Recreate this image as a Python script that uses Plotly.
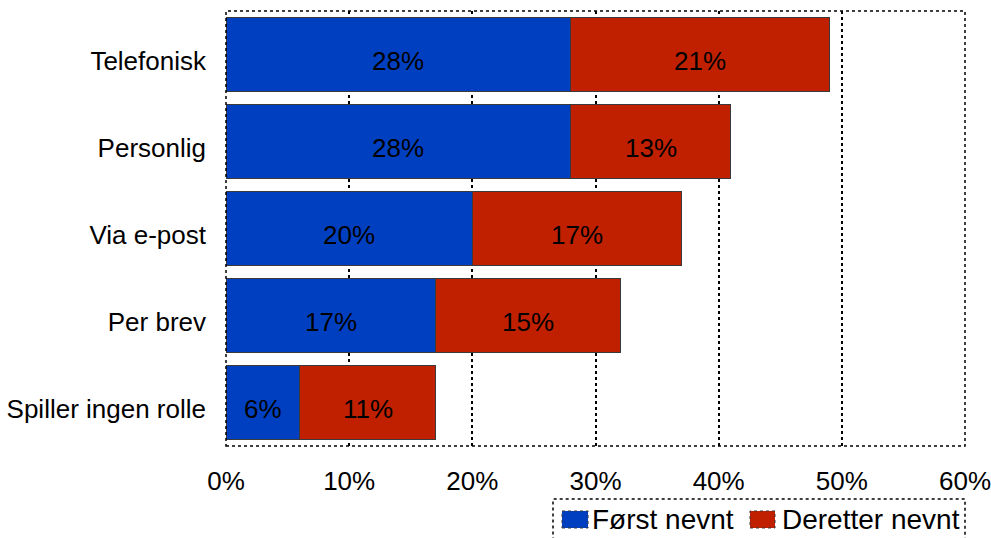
import plotly.graph_objects as go

# Kanaler og andeler (prosent)
kanaler = ["Telefonisk", "Personlig", "Via e-post", "Per brev", "Spiller ingen rolle"]
serier = ["Først nevnt", "Deretter nevnt"]
forst_nevnt = [28, 28, 20, 17, 6]
deretter_nevnt = [21, 13, 17, 15, 11]
x_ticks = [0, 10, 20, 30, 40, 50, 60]
x_ticktext = ["0%", "10%", "20%", "30%", "40%", "50%", "60%"]

BLUE = "#0040C0"
RED = "#C02000"
FONT = "Liberation Sans, Arial, sans-serif"
TEXT_DROP = -6  # etikettene sitter litt under midten av stolpen

fig = go.Figure()
for navn, verdier, farge in [(serier[0], forst_nevnt, BLUE), (serier[1], deretter_nevnt, RED)]:
    fig.add_trace(go.Bar(
        name=navn, y=kanaler, x=verdier, orientation="h",
        marker=dict(color=farge, line=dict(color="#3a3a3a", width=1)),
        hoverinfo="skip", showlegend=False,
    ))

# Verdietiketter midt i hvert segment
for kat, a, b in zip(kanaler, forst_nevnt, deretter_nevnt):
    for start, verdi in [(0, a), (a, b)]:
        fig.add_annotation(x=start + verdi / 2, y=kat, xref="x", yref="y",
                           text=f"{verdi}%", showarrow=False, yshift=TEXT_DROP,
                           font=dict(size=26, family=FONT, color="black"))

fig.update_layout(
    width=991, height=538,
    margin=dict(l=226, r=26, t=11, b=92),
    barmode="stack", bargap=0.15,
    plot_bgcolor="white", paper_bgcolor="white",
    font=dict(family=FONT, size=26, color="black"),
    showlegend=False,
)
fig.update_xaxes(
    range=[0, 60], tickvals=x_ticks, ticktext=x_ticktext,
    showgrid=True, gridcolor="black", griddash="dot", gridwidth=1.5,
    zeroline=False, showline=False, ticks="", ticklabelstandoff=17,
    tickfont=dict(size=26), automargin=False, ticklabeloverflow="allow",
)
fig.update_yaxes(
    categoryorder="array", categoryarray=kanaler, autorange="reversed",
    showgrid=False, zeroline=False, showline=False, ticks="",
    ticklabelstandoff=19, ticklabelshift=TEXT_DROP, tickfont=dict(size=26),
    automargin=False,
)

# Stiplet ramme rundt plottområdet
fig.add_shape(type="rect", xref="paper", yref="paper", x0=0, x1=1, y0=0, y1=1,
              line=dict(color="black", width=1.5, dash="dot"), layer="above")

# Forklaring under plottet, nederst til høyre
fig.add_shape(type="rect", xref="paper", yref="paper", x0=0.4425, x1=1.0,
              y0=-0.25, y1=-0.122,
              line=dict(color="black", width=1.5, dash="dot"), layer="above")
legend_items = [(serier[0], BLUE, 0.4547, 0.4899, 0.4926),
                (serier[1], RED, 0.7091, 0.7429, 0.7497)]
for navn, farge, sx0, sx1, tx in legend_items:
    fig.add_shape(type="rect", xref="paper", yref="paper", x0=sx0, x1=sx1,
                  y0=-0.1885, y1=-0.1494, fillcolor=farge,
                  line=dict(color="#3a3a3a", width=1, dash="dot"))
    fig.add_annotation(text=navn, xref="paper", yref="paper", x=tx, y=-0.17,
                       xanchor="left", yanchor="middle", showarrow=False,
                       font=dict(size=28, family=FONT, color="black"))

fig.write_html("out.html")
